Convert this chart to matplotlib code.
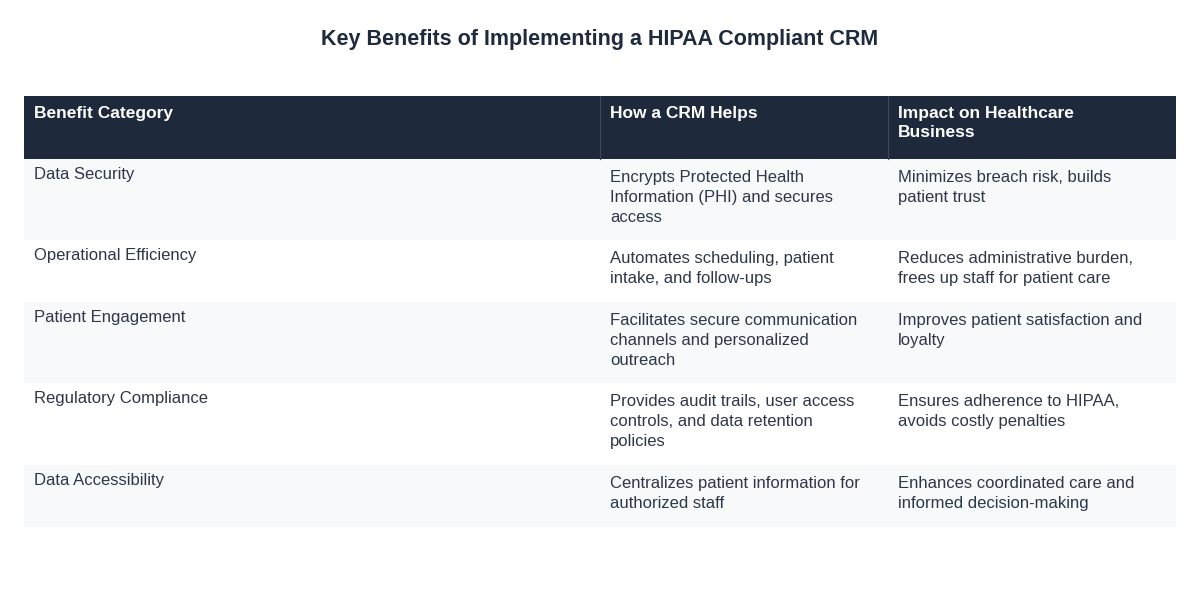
import matplotlib
matplotlib.use("Agg")
import matplotlib.pyplot as plt
from matplotlib.patches import Rectangle

title = "Key Benefits of Implementing a HIPAA Compliant CRM"
headers = ["Benefit Category", "How a CRM Helps", "Impact on Healthcare\nBusiness"]
categories = ["Data Security", "Operational Efficiency", "Patient Engagement",
              "Regulatory Compliance", "Data Accessibility"]
helps = ["Encrypts Protected Health\nInformation (PHI) and secures\naccess",
         "Automates scheduling, patient\nintake, and follow-ups",
         "Facilitates secure communication\nchannels and personalized\noutreach",
         "Provides audit trails, user access\ncontrols, and data retention\npolicies",
         "Centralizes patient information for\nauthorized staff"]
impacts = ["Minimizes breach risk, builds\npatient trust",
           "Reduces administrative burden,\nfrees up staff for patient care",
           "Improves patient satisfaction and\nloyalty",
           "Ensures adherence to HIPAA,\navoids costly penalties",
           "Enhances coordinated care and\ninformed decision-making"]

W, H = 1200, 600
fig = plt.figure(figsize=(12, 6), dpi=100)
ax = fig.add_axes([0, 0, 1, 1])
ax.set_xlim(0, W); ax.set_ylim(H, 0); ax.axis("off")
font = "Liberation Sans"
dark = "#1e2a3b"; txt = "#2d3748"

ax.text(600, 40, title, ha="center", va="center", fontsize=15.5, fontweight="bold",
        color="#1f2a3c", family=font)

x0, x1, x2, x3 = 24, 600, 888, 1176
ax.add_patch(Rectangle((x0, 96), x3 - x0, 63, color=dark, lw=0))
for xs in (x1, x2):
    ax.plot([xs, xs], [96, 159], color="#3b4a5e", lw=0.8)
for xs, h in zip((34, 610, 898), headers):
    ax.text(xs, 106, h, ha="left", va="top", fontsize=12.5, fontweight="bold",
            color="white", family=font, linespacing=1.35)

row_bounds = [159, 240, 302, 383, 465, 527]
for i, (c, hp, im) in enumerate(zip(categories, helps, impacts)):
    top, bot = row_bounds[i], row_bounds[i + 1]
    if i % 2 == 0:
        ax.add_patch(Rectangle((x0, top), x3 - x0, bot - top, color="#f8f9fb", lw=0))
    ax.text(34, top + 8, c, ha="left", va="top", fontsize=12, color=txt, family=font)
    ax.text(610, top + 11, hp, ha="left", va="top", fontsize=12, color=txt, family=font,
            linespacing=1.4)
    ax.text(898, top + 11, im, ha="left", va="top", fontsize=12, color=txt, family=font,
            linespacing=1.4)

fig.savefig("out.png", dpi=100, facecolor="white")
